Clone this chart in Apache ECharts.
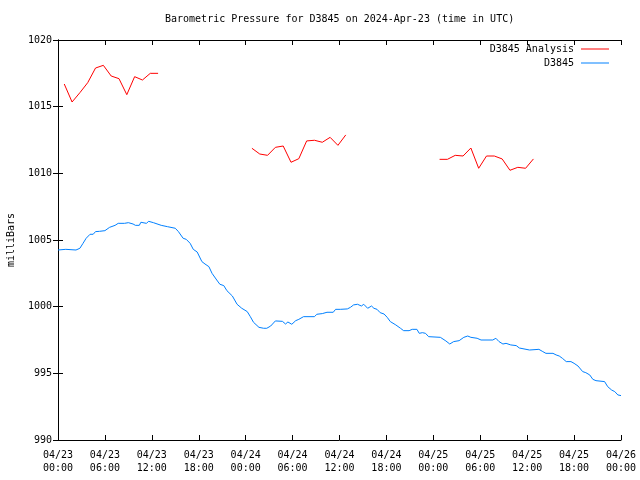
<!DOCTYPE html>
<html><head><meta charset="utf-8">
<script src="https://cdn.jsdelivr.net/npm/echarts@6/dist/echarts.min.js"></script>
<style>html,body{margin:0;padding:0;background:#fff}#c{width:640px;height:480px}</style>
</head><body><div id="c"></div>
<script>
const FONT = '"DejaVu Sans Mono", monospace';
const xTickLabels = ['04/23\n00:00','04/23\n06:00','04/23\n12:00','04/23\n18:00','04/24\n00:00','04/24\n06:00','04/24\n12:00','04/24\n18:00','04/25\n00:00','04/25\n06:00','04/25\n12:00','04/25\n18:00','04/26\n00:00'];
// hours since 2024-04-23 00:00 UTC
const analysisHours1 = [0.8,1.8,2.8,3.8,4.8,5.8,6.8,7.8,8.8,9.8,10.8,11.8,12.8];
const analysisValues1 = [1016.7,1015.35,1016.05,1016.8,1017.9,1018.1,1017.3,1017.1,1015.9,1017.25,1017.0,1017.5,1017.5];
const analysisHours2 = [24.8,25.8,26.8,27.8,28.8,29.8,30.8,31.8,32.8,33.8,34.8,35.8,36.8];
const analysisValues2 = [1011.88,1011.45,1011.35,1011.95,1012.05,1010.83,1011.1,1012.43,1012.48,1012.33,1012.7,1012.1,1012.88];
const analysisHours3 = [48.8,49.8,50.8,51.8,52.8,53.8,54.8,55.8,56.8,57.8,58.8,59.8,60.8];
const analysisValues3 = [1011.05,1011.05,1011.35,1011.3,1011.9,1010.38,1011.3,1011.3,1011.08,1010.23,1010.45,1010.38,1011.08];
const obsHours = [0,1.0,2.3,2.8,3.2,3.6,4.1,4.5,4.8,5.0,5.3,6.0,6.6,7.3,7.7,8.5,9.0,9.6,9.9,10.4,10.6,11.3,11.6,12.2,12.4,13.2,14.0,15.0,15.4,16.0,16.4,16.9,17.3,17.8,18.4,18.8,19.3,19.7,20.3,20.7,21.2,21.6,22.3,22.9,23.5,24.2,24.6,25.0,25.7,26.3,26.7,27.2,27.8,28.7,29.1,29.4,29.9,30.4,30.8,31.4,32.8,33.1,33.8,34.4,35.2,35.5,36.1,37.0,37.4,37.8,38.3,38.8,39.1,39.6,40.1,40.4,40.8,41.2,41.7,42.1,42.5,43.2,43.8,44.2,44.9,45.3,45.9,46.2,46.6,47.0,47.4,48.9,49.6,50.1,50.6,51.3,51.9,52.4,52.8,53.6,54.1,55.6,56.0,56.4,56.9,57.3,57.9,58.6,59.0,60.3,60.5,61.5,62.0,62.4,63.3,63.7,64.1,64.5,65.0,65.6,66.0,66.5,67.1,67.5,68.0,68.4,68.8,69.9,70.3,70.8,71.2,71.6,72.0];
const obsValues = [1004.25,1004.3,1004.25,1004.38,1004.75,1005.13,1005.43,1005.43,1005.63,1005.5,1005.65,1005.7,1005.95,1006.1,1006.25,1006.25,1006.3,1006.2,1006.1,1006.1,1006.33,1006.25,1006.4,1006.3,1006.15,1006.1,1006.0,1005.88,1005.63,1005.13,1005.05,1004.75,1004.3,1004.1,1003.38,1003.2,1003.0,1002.5,1002.0,1001.68,1001.58,1001.2,1000.8,1000.18,999.88,999.63,999.25,998.83,998.45,998.38,998.38,998.55,998.93,998.9,998.7,998.85,998.68,998.95,999.05,999.25,999.25,999.43,999.48,999.58,999.58,999.8,999.8,999.83,999.95,1000.13,1000.18,1000.05,1000.18,999.88,1000.05,999.88,999.8,999.55,999.45,999.2,998.88,998.63,998.38,998.2,998.2,998.3,998.3,998.0,998.05,998.0,997.75,997.7,997.43,997.2,997.38,997.45,997.7,997.8,997.7,997.63,997.5,997.5,997.63,997.38,997.2,997.25,997.13,997.08,996.9,996.75,996.8,996.8,996.63,996.5,996.5,996.38,996.3,996.13,995.88,995.88,995.75,995.55,995.13,995.05,994.88,994.55,994.45,994.38,994.0,993.75,993.63,993.38,993.33];

const zip = (a, b) => a.map((v, i) => [v, b[i]]);
const RED = '#ff0000', BLUE = '#0080ff';
const redSeries = (h, v) => ({type:'line', name:'D3845 Analysis', data: zip(h, v), showSymbol:false, symbol:'none', lineStyle:{color:RED, width:1}, itemStyle:{color:RED}});

const chart = echarts.init(document.getElementById('c'), null, {renderer:'canvas'});
const tick = {show: true, inside: true, length: 5, lineStyle: {color: '#000'}};
const axisCommon = {
  min: 0, max: 72, interval: 6, type: 'value',
  axisLine: {show: true, onZero: false, lineStyle: {color: '#000', width: 1}},
  axisTick: tick,
  splitLine: {show: false}
};
const LINE_ICON = 'path://M0,0L28,0L28,1L0,1Z';
chart.setOption({
  animation: false,
  backgroundColor: '#fff',
  title: {text: 'Barometric Pressure for D3845 on 2024-Apr-23 (time in UTC)', left: 165, top: 14, padding: 0,
    textStyle: {fontFamily: FONT, fontSize: 10, fontWeight: 'normal', color: '#000'}},
  legend: {
    orient: 'vertical', right: 31, top: 44, padding: 0, align: 'right', itemGap: 4, itemWidth: 28, itemHeight: 1,
    data: [{name: 'D3845 Analysis', icon: LINE_ICON}, {name: 'D3845', icon: LINE_ICON}],
    textStyle: {fontFamily: FONT, fontSize: 10, color: '#000', lineHeight: 10, height: 10, padding: [0, 2, 0, 0]}
  },
  grid: {left: 58, right: 19, top: 40, bottom: 40, containLabel: false, outerBoundsMode: 'none'},
  xAxis: [
    Object.assign({}, axisCommon, {position: 'bottom',
      axisLabel: {fontFamily: FONT, fontSize: 10, color: '#000', margin: 9, lineHeight: 13,
        formatter: v => xTickLabels[Math.round(v / 6)]}}),
    Object.assign({}, axisCommon, {position: 'top', axisLabel: {show: false}})
  ],
  yAxis: [
    {type: 'value', min: 990, max: 1020, interval: 5, position: 'left',
      name: 'milliBars', nameLocation: 'middle', nameRotate: 90, nameGap: 42,
      nameTextStyle: {fontFamily: FONT, fontSize: 10, color: '#000'},
      axisLine: {show: true, lineStyle: {color: '#000'}},
      axisTick: tick,
      axisLabel: {fontFamily: FONT, fontSize: 10, color: '#000', margin: 6, formatter: v => String(v)},
      splitLine: {show: false}},
    {type: 'value', min: 990, max: 1020, interval: 5, position: 'right',
      axisLine: {show: true, lineStyle: {color: '#000'}},
      axisTick: tick,
      axisLabel: {show: false}, splitLine: {show: false}}
  ],
  series: [
    redSeries(analysisHours1, analysisValues1),
    redSeries(analysisHours2, analysisValues2),
    redSeries(analysisHours3, analysisValues3),
    {type: 'line', name: 'D3845', data: zip(obsHours, obsValues), showSymbol: false, symbol: 'none',
      lineStyle: {color: BLUE, width: 1}, itemStyle: {color: BLUE}}
  ]
});
</script></body></html>
